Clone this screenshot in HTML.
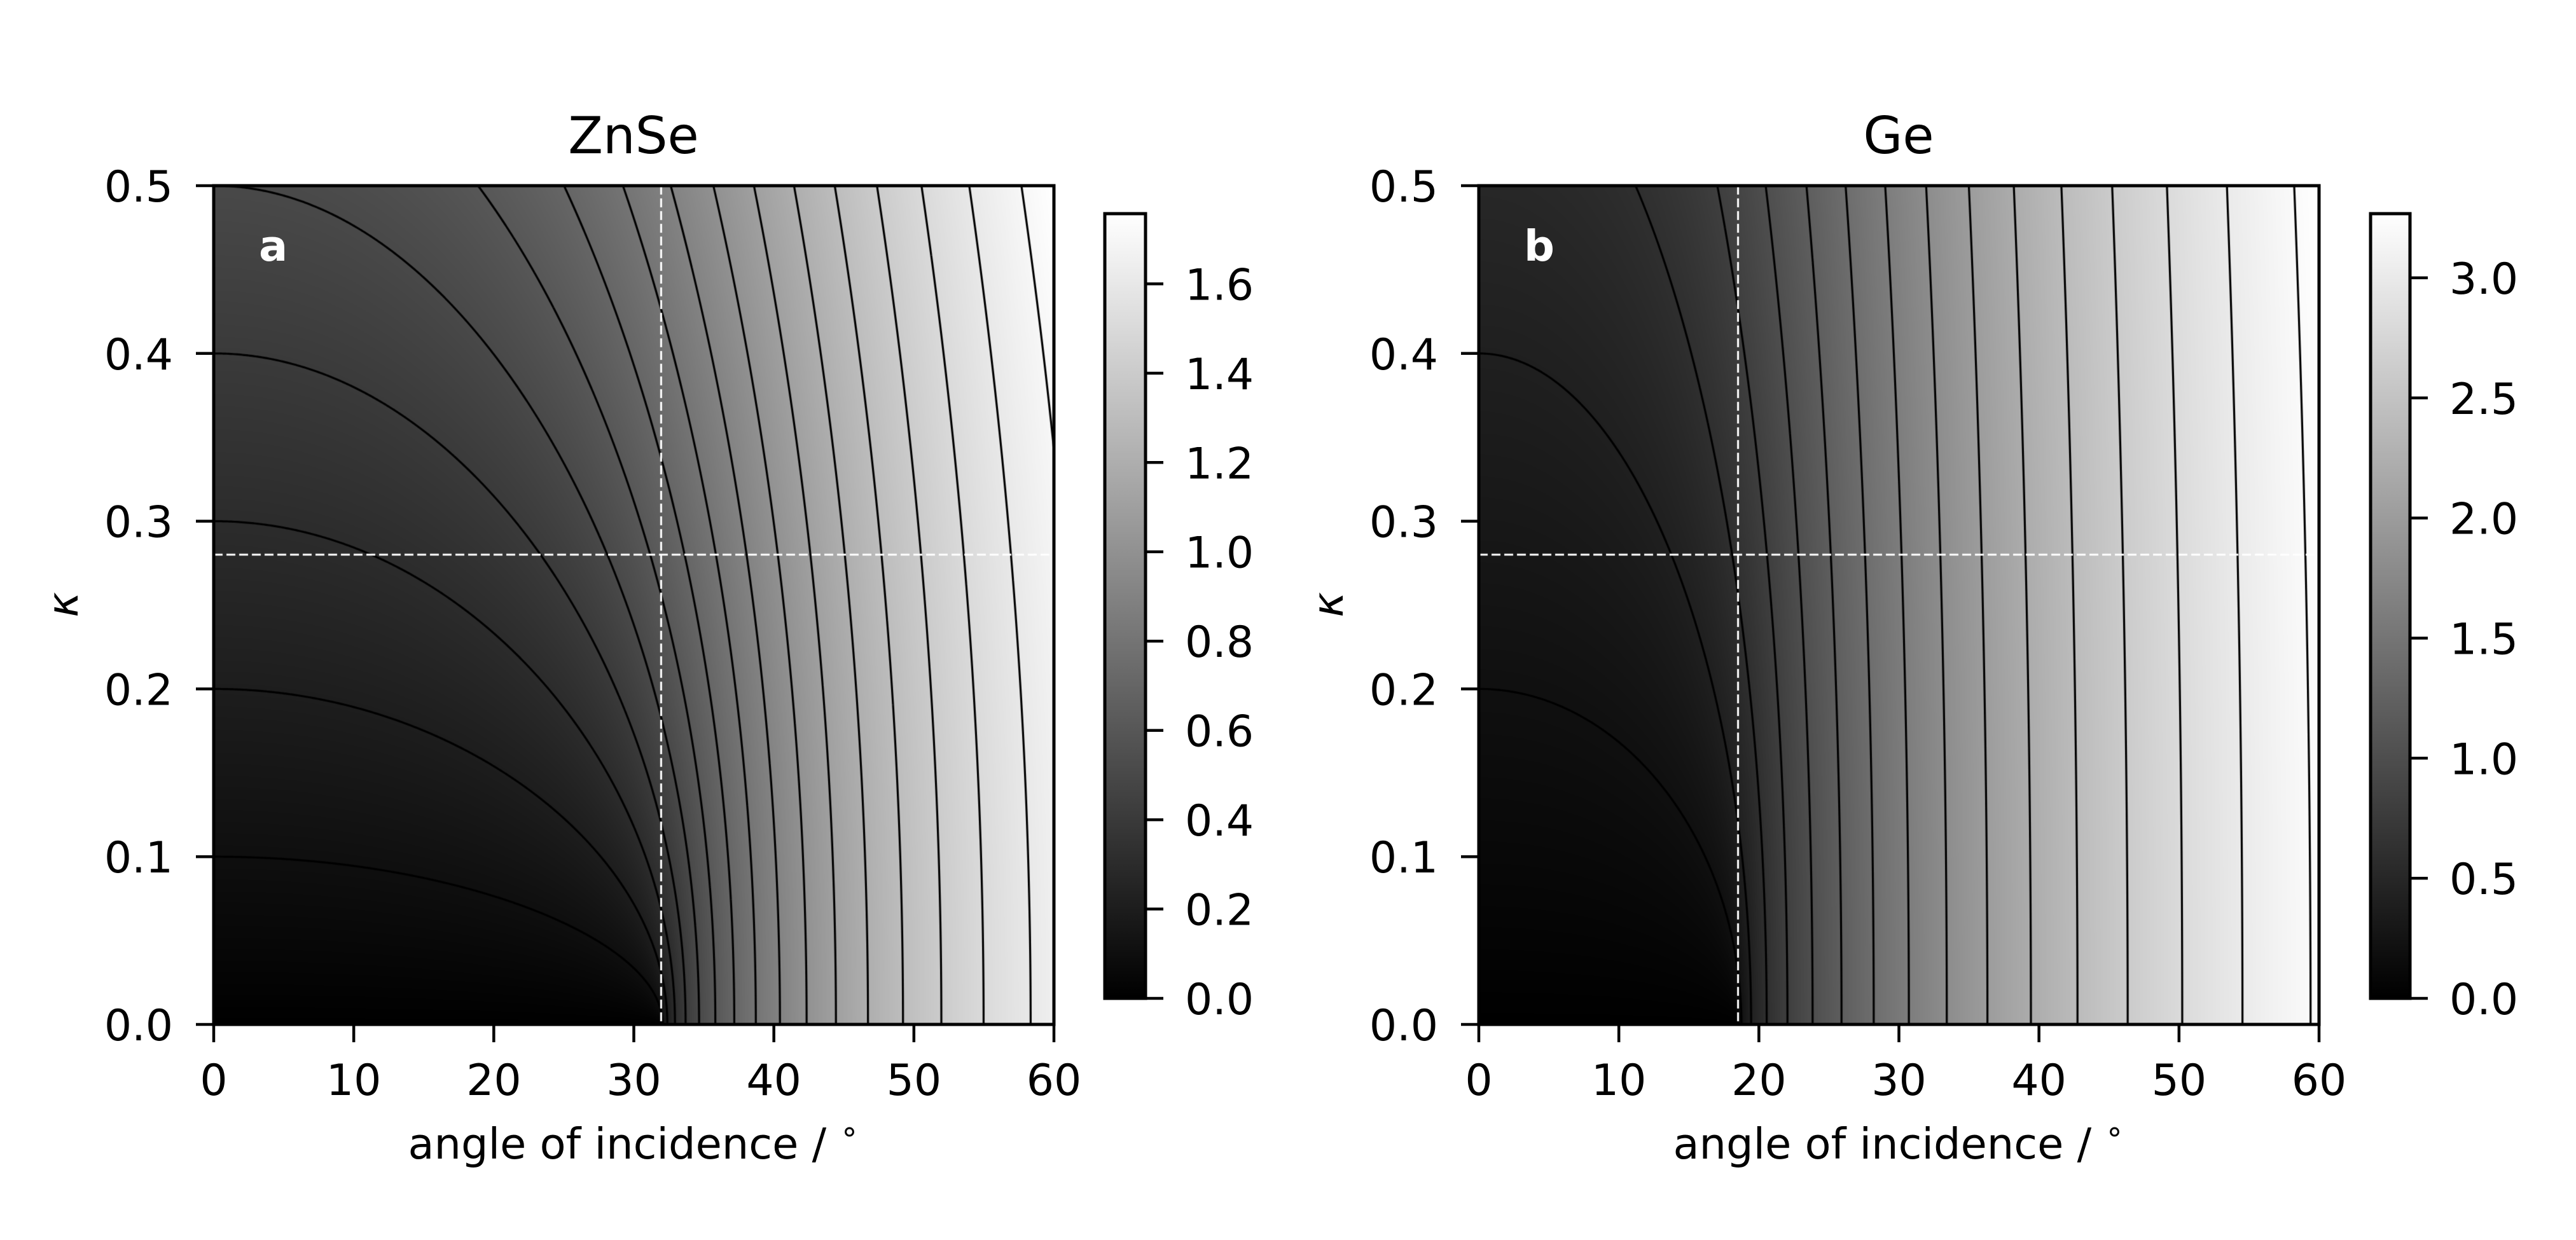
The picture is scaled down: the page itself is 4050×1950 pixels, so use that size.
<!DOCTYPE html>
<html><head><meta charset="utf-8">
<style>
html,body{margin:0;padding:0;background:#fff;}
#wrap{position:relative;width:4050px;height:1950px;overflow:hidden;}
canvas,svg{position:absolute;left:0;top:0;}
text{font-family:"DejaVu Sans","Liberation Sans",sans-serif;}
</style></head><body>
<div id="wrap">
<canvas id="c" width="4050" height="1950"></canvas>
<svg id="s" width="4050" height="1950" xmlns="http://www.w3.org/2000/svg">
<g font-size="67" fill="#000">
<text x="996" y="241" font-size="80" text-anchor="middle">ZnSe</text>
<text x="996" y="1822" text-anchor="middle">angle of incidence / <tspan font-size="48" dy="-27">∘</tspan></text>
<text x="0" y="0" font-style="italic" text-anchor="middle" transform="translate(122,951) rotate(-90)">κ</text>
<text x="407" y="410" font-weight="bold" fill="#fff">a</text>
<text x="2985" y="241" font-size="80" text-anchor="middle">Ge</text>
<text x="2985" y="1822" text-anchor="middle">angle of incidence / <tspan font-size="48" dy="-27">∘</tspan></text>
<text x="0" y="0" font-style="italic" text-anchor="middle" transform="translate(2111,951) rotate(-90)">κ</text>
<text x="2396" y="410" font-weight="bold" fill="#fff">b</text>
</g>
<g id="axes"></g>
</svg>
</div>
<script>
(function(){
var cv=document.getElementById('c'),ctx=cv.getContext('2d');
var g=document.getElementById('axes');
var NS='http://www.w3.org/2000/svg';
function el(t,a,txt){var e=document.createElementNS(NS,t);for(var k in a)e.setAttribute(k,a[k]);if(txt!==undefined)e.textContent=txt;g.appendChild(e);return e;}
var n=1.27;
function f(th,k,n1){var s=Math.sin(th*Math.PI/180);var a=n1*n1*s*s-(n*n-k*k);var b=2*n*k;var m=Math.sqrt(a*a+b*b);return Math.sqrt(Math.max(0,(m+a)/2));}
var T=292,B=1611;
var panels=[
 {x0:336,x1:1657,n1:2.4,step:0.1,cbL:1737,cbR:1801,cbT:336,cbB:1570,cbt:[0,0.2,0.4,0.6,0.8,1.0,1.2,1.4,1.6]},
 {x0:2325,x1:3646,n1:4.0,step:0.2,cbL:3727,cbR:3789,cbT:336,cbB:1570,cbt:[0,0.5,1.0,1.5,2.0,2.5,3.0]}
];
panels.forEach(function(p){
 var W=p.x1-p.x0,H=B-T;
 var vmax=f(60,0.5,p.n1);
 var img=ctx.createImageData(W,H),d=img.data;
 for(var j=0;j<H;j++){var k=0.5*(1-(j+0.5)/H);
  for(var i=0;i<W;i++){var th=60*(i+0.5)/W;var v=f(th,k,p.n1)/vmax;var c=Math.round(Math.min(1,v)*255);var o=(j*W+i)*4;d[o]=d[o+1]=d[o+2]=c;d[o+3]=255;}}
 ctx.putImageData(img,p.x0,T);
 var st=3,nx=Math.ceil(W/st)+1,ny=Math.ceil(H/st)+1;
 var G=new Float64Array(nx*ny);
 for(var j=0;j<ny;j++)for(var i=0;i<nx;i++){var px=Math.min(i*st,W),py=Math.min(j*st,H);G[j*nx+i]=f(60*px/W,0.5*(1-py/H),p.n1);}
 ctx.save();ctx.beginPath();ctx.rect(p.x0,T,W,H);ctx.clip();
 ctx.strokeStyle='#000';ctx.lineWidth=3.2;ctx.beginPath();
 for(var L=p.step;L<vmax;L+=p.step){
  for(var j=0;j<ny-1;j++)for(var i=0;i<nx-1;i++){
   var X0=p.x0+Math.min(i*st,W),X1=p.x0+Math.min((i+1)*st,W),Y0=T+Math.min(j*st,H),Y1=T+Math.min((j+1)*st,H);
   var a=G[j*nx+i],b=G[j*nx+i+1],c=G[(j+1)*nx+i+1],e=G[(j+1)*nx+i];
   var pts=[];
   if((a<L)!=(b<L)){var t=(L-a)/(b-a);pts.push([X0+t*(X1-X0),Y0]);}
   if((b<L)!=(c<L)){var t=(L-b)/(c-b);pts.push([X1,Y0+t*(Y1-Y0)]);}
   if((e<L)!=(c<L)){var t=(L-e)/(c-e);pts.push([X0+t*(X1-X0),Y1]);}
   if((a<L)!=(e<L)){var t=(L-a)/(e-a);pts.push([X0,Y0+t*(Y1-Y0)]);}
   if(pts.length>=2){ctx.moveTo(pts[0][0],pts[0][1]);ctx.lineTo(pts[1][0],pts[1][1]);}
   if(pts.length==4){ctx.moveTo(pts[2][0],pts[2][1]);ctx.lineTo(pts[3][0],pts[3][1]);}
  }
 }
 ctx.stroke();
 ctx.strokeStyle='#fff';ctx.lineWidth=3;ctx.setLineDash([14,6]);
 var ky=T+H*(1-0.28/0.5);ctx.beginPath();ctx.moveTo(p.x0,ky);ctx.lineTo(p.x1,ky);ctx.stroke();
 var thc=Math.asin(n/p.n1)*180/Math.PI;var vx=p.x0+W*thc/60;ctx.beginPath();ctx.moveTo(vx,T);ctx.lineTo(vx,B);ctx.stroke();
 ctx.setLineDash([]);ctx.restore();
 var gr=ctx.createLinearGradient(0,p.cbB,0,p.cbT);gr.addColorStop(0,'#000');gr.addColorStop(1,'#fff');
 ctx.fillStyle=gr;ctx.fillRect(p.cbL,p.cbT,p.cbR-p.cbL,p.cbB-p.cbT);
 el('rect',{x:p.x0,y:T,width:W,height:H,fill:'none',stroke:'#000','stroke-width':5});
 el('rect',{x:p.cbL,y:p.cbT,width:p.cbR-p.cbL,height:p.cbB-p.cbT,fill:'none',stroke:'#000','stroke-width':5});
 for(var v=0;v<=60;v+=10){var x=p.x0+W*v/60;el('line',{x1:x,y1:B,x2:x,y2:B+28,stroke:'#000','stroke-width':4.5});el('text',{x:x,y:1722,'text-anchor':'middle','font-size':68},String(v));}
 for(var q=0;q<=5;q++){var y=B-H*q/5;el('line',{x1:p.x0-28,y1:y,x2:p.x0,y2:y,stroke:'#000','stroke-width':4.5});el('text',{x:p.x0-64,y:y+25,'text-anchor':'end','font-size':68},(q/10).toFixed(1));}
 p.cbt.forEach(function(v){var y=p.cbB-(p.cbB-p.cbT)*v/vmax;el('line',{x1:p.cbR,y1:y,x2:p.cbR+28,y2:y,stroke:'#000','stroke-width':4.5});el('text',{x:p.cbR+62,y:y+25,'font-size':68},v.toFixed(1));});
});
})();
</script>
</body></html>
